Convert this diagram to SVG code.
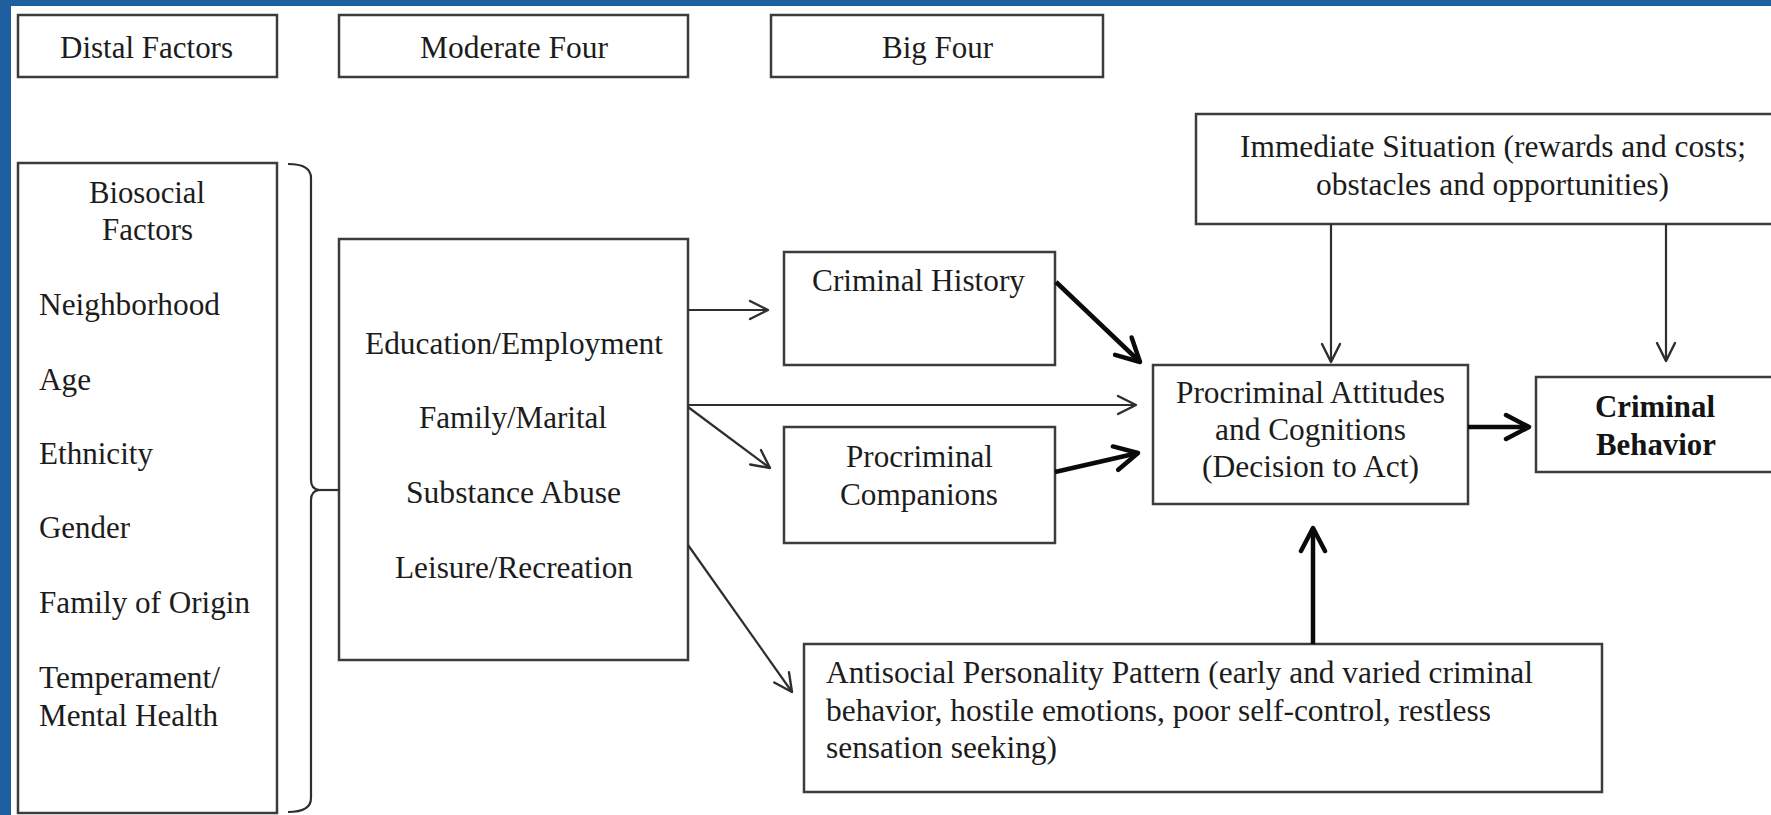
<svg xmlns="http://www.w3.org/2000/svg" width="1771" height="815" viewBox="0 0 1771 815">
  <style>
    .box { fill: #ffffff; stroke: #3c3c3c; stroke-width: 2.5; }
    .t { font-family: "Liberation Serif", "Times New Roman", serif; font-size: 32px; fill: #1c1c1c; }
    .tb { font-family: "Liberation Serif", "Times New Roman", serif; font-size: 32px; font-weight: bold; fill: #141414; }
    .thin { stroke: #2e2e2e; stroke-width: 2.2; fill: none; }
    .thick { stroke: #0a0a0a; stroke-width: 4.5; fill: none; }
  </style>
  <defs>
    <marker id="headThin" markerUnits="userSpaceOnUse" viewBox="0 0 22 22" markerWidth="22" markerHeight="22" refX="20" refY="11" orient="auto">
      <path d="M2,2 L20,11 L2,20" fill="none" stroke="#2e2e2e" stroke-width="2.4" stroke-linejoin="round" stroke-linecap="round"/>
    </marker>
    <marker id="headThick" markerUnits="userSpaceOnUse" viewBox="0 0 30 30" markerWidth="30" markerHeight="30" refX="26" refY="15" orient="auto">
      <path d="M3,3 L26,15 L3,27" fill="none" stroke="#0a0a0a" stroke-width="4.5" stroke-linejoin="round" stroke-linecap="round"/>
    </marker>
  </defs>

  <!-- page background and frame -->
  <rect x="0" y="0" width="1771" height="815" fill="#ffffff"/>
  <rect x="0" y="0" width="1771" height="6" fill="#1e5f9f"/>
  <rect x="0" y="0" width="11" height="815" fill="#1e5f9f"/>

  <!-- column headers -->
  <g id="hdr-distal">
    <rect class="box" x="18" y="15" width="259" height="62"/>
    <text class="t" x="60" y="58" textLength="173" lengthAdjust="spacingAndGlyphs">Distal Factors</text>
  </g>
  <g id="hdr-moderate">
    <rect class="box" x="339" y="15" width="349" height="62"/>
    <text class="t" x="420" y="58" textLength="188" lengthAdjust="spacingAndGlyphs">Moderate Four</text>
  </g>
  <g id="hdr-big">
    <rect class="box" x="771" y="15" width="332" height="62"/>
    <text class="t" x="882" y="58" textLength="111" lengthAdjust="spacingAndGlyphs">Big Four</text>
  </g>

  <!-- distal factors -->
  <g id="biosocial">
    <rect class="box" x="18" y="163" width="259" height="650"/>
    <text class="t" x="89" y="203" textLength="116" lengthAdjust="spacingAndGlyphs">Biosocial</text>
    <text class="t" x="102" y="240" textLength="91" lengthAdjust="spacingAndGlyphs">Factors</text>
    <text class="t" x="39" y="315" textLength="181" lengthAdjust="spacingAndGlyphs">Neighborhood</text>
    <text class="t" x="39" y="390" textLength="52" lengthAdjust="spacingAndGlyphs">Age</text>
    <text class="t" x="39" y="464" textLength="114" lengthAdjust="spacingAndGlyphs">Ethnicity</text>
    <text class="t" x="39" y="538" textLength="91" lengthAdjust="spacingAndGlyphs">Gender</text>
    <text class="t" x="39" y="613" textLength="211" lengthAdjust="spacingAndGlyphs">Family of Origin</text>
    <text class="t" x="39" y="688" textLength="181" lengthAdjust="spacingAndGlyphs">Temperament/</text>
    <text class="t" x="39" y="726" textLength="179" lengthAdjust="spacingAndGlyphs">Mental Health</text>
  </g>

  <!-- moderate four -->
  <g id="moderate">
    <rect class="box" x="339" y="239" width="349" height="421"/>
    <text class="t" x="365" y="354" textLength="298" lengthAdjust="spacingAndGlyphs">Education/Employment</text>
    <text class="t" x="419" y="428" textLength="188" lengthAdjust="spacingAndGlyphs">Family/Marital</text>
    <text class="t" x="406" y="503" textLength="215" lengthAdjust="spacingAndGlyphs">Substance Abuse</text>
    <text class="t" x="395" y="578" textLength="238" lengthAdjust="spacingAndGlyphs">Leisure/Recreation</text>
  </g>

  <!-- big four -->
  <g id="criminal-history">
    <rect class="box" x="784" y="252" width="271" height="113"/>
    <text class="t" x="812" y="291" textLength="213" lengthAdjust="spacingAndGlyphs">Criminal History</text>
  </g>
  <g id="companions">
    <rect class="box" x="784" y="427" width="271" height="116"/>
    <text class="t" x="846" y="467" textLength="147" lengthAdjust="spacingAndGlyphs">Procriminal</text>
    <text class="t" x="840" y="505" textLength="158" lengthAdjust="spacingAndGlyphs">Companions</text>
  </g>
  <g id="attitudes">
    <rect class="box" x="1153" y="365" width="315" height="139"/>
    <text class="t" x="1176" y="403" textLength="269" lengthAdjust="spacingAndGlyphs">Procriminal Attitudes</text>
    <text class="t" x="1215" y="440" textLength="191" lengthAdjust="spacingAndGlyphs">and Cognitions</text>
    <text class="t" x="1202" y="477" textLength="217" lengthAdjust="spacingAndGlyphs">(Decision to Act)</text>
  </g>
  <g id="antisocial">
    <rect class="box" x="804" y="644" width="798" height="148"/>
    <text class="t" x="826" y="683" textLength="707" lengthAdjust="spacingAndGlyphs">Antisocial Personality Pattern (early and varied criminal</text>
    <text class="t" x="826" y="721" textLength="665" lengthAdjust="spacingAndGlyphs">behavior, hostile emotions, poor self-control, restless</text>
    <text class="t" x="826" y="758" textLength="231" lengthAdjust="spacingAndGlyphs">sensation seeking)</text>
  </g>

  <!-- situation and outcome -->
  <g id="situation">
    <rect class="box" x="1196" y="114" width="590" height="110"/>
    <text class="t" x="1240" y="157" textLength="506" lengthAdjust="spacingAndGlyphs">Immediate Situation (rewards and costs;</text>
    <text class="t" x="1316" y="195" textLength="353" lengthAdjust="spacingAndGlyphs">obstacles and opportunities)</text>
  </g>
  <g id="behavior">
    <rect class="box" x="1536" y="377" width="250" height="95"/>
    <text class="tb" x="1595" y="417" textLength="120" lengthAdjust="spacingAndGlyphs">Criminal</text>
    <text class="tb" x="1596" y="455" textLength="120" lengthAdjust="spacingAndGlyphs">Behavior</text>
  </g>

  <!-- connectors -->
  <g id="connectors">
    <!-- brace grouping the distal factors -->
    <path class="thin" d="M288,164 Q311,164 311,178 L311,480 Q311,489 319,490 Q311,491 311,500 L311,798 Q311,812 288,812"/>
    <line class="thin" x1="318" y1="490" x2="339" y2="490"/>

    <!-- moderate four to big four -->
    <line class="thin" x1="688" y1="310" x2="768" y2="310" marker-end="url(#headThin)"/>
    <line class="thin" x1="688" y1="405" x2="1136" y2="405" marker-end="url(#headThin)"/>
    <line class="thin" x1="688" y1="407" x2="770" y2="468" marker-end="url(#headThin)"/>
    <line class="thin" x1="688" y1="545" x2="792" y2="692" marker-end="url(#headThin)"/>

    <!-- immediate situation -->
    <line class="thin" x1="1331" y1="224" x2="1331" y2="362" marker-end="url(#headThin)"/>
    <line class="thin" x1="1666" y1="224" x2="1666" y2="361" marker-end="url(#headThin)"/>

    <!-- big four to attitudes and behavior -->
    <line class="thick" x1="1056" y1="282" x2="1140" y2="362" marker-end="url(#headThick)"/>
    <line class="thick" x1="1055" y1="472" x2="1138" y2="453" marker-end="url(#headThick)"/>
    <line class="thick" x1="1468" y1="427" x2="1529" y2="427" marker-end="url(#headThick)"/>
    <line class="thick" x1="1313" y1="644" x2="1313" y2="528" marker-end="url(#headThick)"/>
  </g>
</svg>
